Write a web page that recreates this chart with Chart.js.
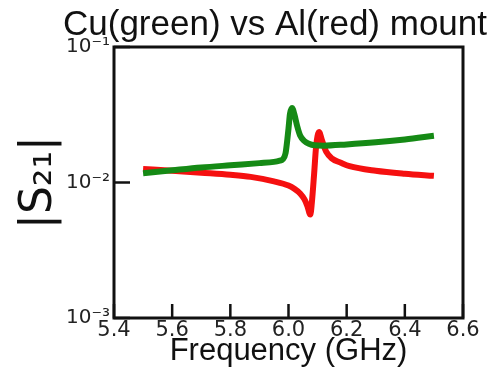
<!DOCTYPE html>
<html>
<head>
<meta charset="utf-8">
<script src="https://cdn.jsdelivr.net/npm/chart.js@4.4.1/dist/chart.umd.min.js"></script>
<style>
  html, body { margin: 0; padding: 0; background: #fff; }
  #wrap { width: 499px; height: 371px; }
</style>
</head>
<body>
<div id="wrap"><canvas id="s21Chart" width="499" height="371"></canvas></div>
<script>
// Frequency (GHz) and |S21|
const cuFreq = [5.50, 5.55, 5.60, 5.70, 5.80, 5.90, 5.95, 5.97, 5.98, 5.99, 6.00, 6.005, 6.012, 6.02, 6.03, 6.04, 6.055, 6.07, 6.09, 6.12, 6.20, 6.30, 6.40, 6.50];
const cuS21 = [0.0117, 0.0120, 0.0123, 0.0129, 0.0134, 0.0139, 0.0142, 0.0145, 0.0148, 0.0165, 0.0250, 0.0320, 0.0355, 0.0320, 0.0260, 0.0222, 0.0202, 0.0193, 0.0188, 0.0187, 0.0191, 0.0198, 0.0208, 0.0221];

const alFreq = [5.50, 5.60, 5.70, 5.80, 5.87, 5.95, 6.00, 6.02, 6.04, 6.055, 6.065, 6.075, 6.08, 6.088, 6.095, 6.105, 6.115, 6.13, 6.15, 6.18, 6.21, 6.30, 6.40, 6.50];
const alS21 = [0.0126, 0.0122, 0.0118, 0.0114, 0.0110, 0.0102, 0.0095, 0.0090, 0.0083, 0.0075, 0.0067, 0.0058, 0.0070, 0.0115, 0.0185, 0.0236, 0.0205, 0.0168, 0.0150, 0.0140, 0.0132, 0.0122, 0.0116, 0.0112];

const xTicks = [5.4, 5.6, 5.8, 6.0, 6.2, 6.4, 6.6];
const yTicks = [0.001, 0.01, 0.1];
const yTickLabels = ['10\u207B\u00B3', '10\u207B\u00B2', '10\u207B\u00B9'];

function toPoints(xs, ys) {
    return xs.map((x, i) => ({ x: x, y: ys[i] }));
}

// Box round the plot area plus inward tick marks, matplotlib style
const frameAndTicks = {
    id: 'frameAndTicks',
    afterDatasetsDraw(chart) {
        const { ctx, chartArea, scales } = chart;
        ctx.save();
        ctx.strokeStyle = '#111';
        ctx.lineWidth = 2.5;
        xTicks.forEach(v => {
            const px = scales.x.getPixelForValue(v);
            ctx.beginPath();
            ctx.moveTo(px, chartArea.bottom);
            ctx.lineTo(px, chartArea.bottom - 14);
            ctx.stroke();
        });
        yTicks.forEach(v => {
            const py = scales.y.getPixelForValue(v);
            ctx.beginPath();
            ctx.moveTo(chartArea.left, py);
            ctx.lineTo(chartArea.left + 16, py);
            ctx.stroke();
        });
        ctx.lineWidth = 3;
        ctx.strokeRect(chartArea.left, chartArea.top, chartArea.right - chartArea.left, chartArea.bottom - chartArea.top);
        ctx.restore();
    }
};

// Title sits a little left of the plot centre in the original
const plotTitle = {
    id: 'plotTitle',
    afterDraw(chart) {
        const ctx = chart.ctx;
        ctx.save();
        ctx.fillStyle = '#111';
        ctx.font = '35px "Liberation Sans", Arial, sans-serif';
        ctx.textAlign = 'center';
        ctx.textBaseline = 'alphabetic';
        ctx.fillText('Cu(green) vs Al(red) mount', 275, 35);
        ctx.restore();
    }
};

const ctx = document.getElementById('s21Chart').getContext('2d');
new Chart(ctx, {
    type: 'line',
    data: {
        datasets: [
            {
                label: 'Cu',
                data: toPoints(cuFreq, cuS21),
                borderColor: '#158a15',
                borderWidth: 6,
                pointRadius: 0,
                cubicInterpolationMode: 'monotone',
                fill: false
            },
            {
                label: 'Al',
                data: toPoints(alFreq, alS21),
                borderColor: '#f51010',
                borderWidth: 6,
                pointRadius: 0,
                cubicInterpolationMode: 'monotone',
                fill: false
            }
        ]
    },
    options: {
        responsive: false,
        animation: false,
        layout: { padding: { top: 47, right: 36, left: 0, bottom: 0 } },
        plugins: {
            legend: { display: false },
            title: { display: false },
            tooltip: { enabled: false }
        },
        scales: {
            x: {
                type: 'linear',
                min: 5.4,
                max: 6.6,
                grid: { display: false, drawTicks: false },
                border: { display: false },
                afterBuildTicks: scale => { scale.ticks = xTicks.map(v => ({ value: v })); },
                afterFit: scale => { scale.height = 53; },
                ticks: {
                    color: '#222',
                    padding: 0,
                    maxRotation: 0,
                    font: { family: '"DejaVu Sans"', size: 21 },
                    callback: v => v.toFixed(1)
                },
                title: {
                    display: true,
                    text: 'Frequency (GHz)',
                    color: '#111',
                    font: { family: '"Liberation Sans", Arial', size: 31, lineHeight: 1 },
                    padding: { top: 0, bottom: 4 }
                }
            },
            y: {
                type: 'logarithmic',
                min: 0.001,
                max: 0.1,
                grid: { display: false, drawTicks: false },
                border: { display: false },
                afterBuildTicks: scale => { scale.ticks = yTicks.map(v => ({ value: v })); },
                afterFit: scale => { scale.width = 114; },
                ticks: {
                    color: '#222',
                    padding: 4,
                    font: { family: '"DejaVu Sans"', size: 20 },
                    callback: (v) => {
                        const i = yTicks.indexOf(v);
                        return i >= 0 ? yTickLabels[i] : '';
                    }
                },
                title: {
                    display: true,
                    text: '|S\u2082\u2081|',
                    color: '#111',
                    font: { family: '"DejaVu Sans"', size: 44, lineHeight: 1 },
                    padding: { top: 18, bottom: 0 }
                }
            }
        }
    },
    plugins: [frameAndTicks, plotTitle]
});
</script>
</body>
</html>
